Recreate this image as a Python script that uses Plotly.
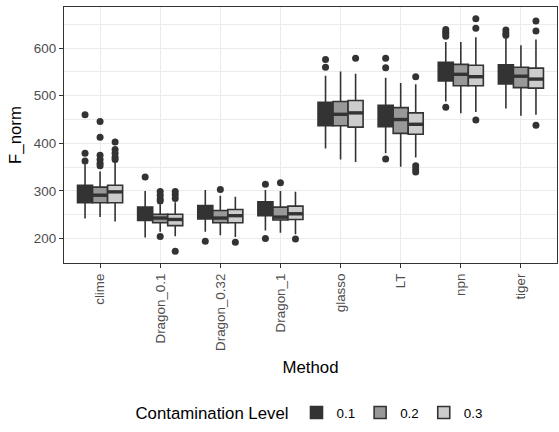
import plotly.graph_objects as go

methods = ["clime", "Dragon_0.1", "Dragon_0.32", "Dragon_1", "glasso", "LT", "npn", "tiger"]
levels = ["0.1", "0.2", "0.3"]

q1 = {
    "0.1": [275, 238, 241, 248, 437, 435, 531, 525],
    "0.2": [275, 233, 233, 239, 437, 421, 521, 517],
    "0.3": [275, 227, 233, 240, 434, 419, 521, 516],
}
median = {
    "0.1": [290, 250, 255, 262, 460, 455, 550, 545],
    "0.2": [291, 243, 243, 245, 461, 450, 545, 541],
    "0.3": [298, 240, 248, 252, 464, 440, 540, 535],
}
q3 = {
    "0.1": [312, 266, 269, 277, 486, 480, 570, 565],
    "0.2": [308, 251, 259, 266, 488, 475, 566, 560],
    "0.3": [312, 251, 261, 268, 490, 464, 564, 558],
}
lower = {
    "0.1": [242, 202, 214, 217, 389, 379, 488, 473],
    "0.2": [245, 214, 207, 212, 366, 351, 463, 458],
    "0.3": [236, 205, 203, 209, 361, 370, 466, 460],
}
upper = {
    "0.1": [356, 300, 302, 302, 542, 538, 613, 622],
    "0.2": [341, 272, 290, 300, 551, 527, 613, 606],
    "0.3": [362, 276, 288, 298, 546, 524, 623, 618],
}
outliers = {
    "0.1": [[460, 379, 363], [329], [194], [314, 200], [576, 560],
            [579, 559, 367], [639, 634, 630, 625, 476], [638, 632, 627]],
    "0.2": [[446, 413, 375, 366, 358, 353], [299, 291, 283, 279, 204], [303], [317],
            [], [], [], []],
    "0.3": [[403, 387, 379, 371, 366], [299, 292, 284, 173], [192], [199], [579],
            [540, 353, 346, 340], [662, 642, 449], [657, 636, 438]],
}

fills = {"0.1": "#333333", "0.2": "#989898", "0.3": "#CCCCCC"}
edge = "#333333"
dodge = 0.75
bw = dodge / len(levels)

fig = go.Figure()
for k, lv in enumerate(levels):
    off = -dodge / 2 + bw * (k + 0.5)
    xs = [i + 1 + off for i in range(len(methods))]
    fig.add_trace(go.Box(
        name=lv, x=xs, q1=q1[lv], median=median[lv], q3=q3[lv],
        lowerfence=lower[lv], upperfence=upper[lv],
        width=bw, whiskerwidth=0, fillcolor=fills[lv],
        line=dict(color=edge, width=1.6), boxpoints=False,
        hoverinfo="skip",
    ))
    # thick median lines
    mx, my = [], []
    for x, m in zip(xs, median[lv]):
        mx += [x - bw / 2, x + bw / 2, None]
        my += [m, m, None]
    fig.add_trace(go.Scatter(x=mx, y=my, mode="lines", line=dict(color=edge, width=3.4),
                             showlegend=False, hoverinfo="skip"))
    ox, oy = [], []
    for x, vals in zip(xs, outliers[lv]):
        for v in vals:
            ox.append(x)
            oy.append(v)
    fig.add_trace(go.Scatter(x=ox, y=oy, mode="markers",
                             marker=dict(color=edge, size=7, line=dict(width=0)),
                             showlegend=False, hoverinfo="skip"))

allvals = []
for lv in levels:
    allvals += lower[lv] + upper[lv]
    for o in outliers[lv]:
        allvals += o
lo, hi = min(allvals), max(allvals)
pad = (hi - lo) * 0.05

font = "Liberation Sans, Arial, sans-serif"
fig.update_layout(
    width=559, height=432,
    margin=dict(l=64, r=2, t=7, b=164, pad=0),
    plot_bgcolor="white", paper_bgcolor="white",
    font=dict(family=font, color="#4D4D4D", size=13.4),
    showlegend=True,
    legend=dict(
        orientation="h", x=0.5, xanchor="center", y=-0.587, yanchor="middle",
        title=dict(text="Contamination Level", font=dict(size=16.8, color="black"), side="left"),
        font=dict(size=13.4, color="black"),
        itemwidth=30, tracegroupgap=0,
    ),
    xaxis=dict(
        range=[0.4, len(methods) + 0.6],
        tickvals=list(range(1, len(methods) + 1)), ticktext=methods,
        tickangle=-90, ticks="outside", ticklen=4, tickwidth=1.4, tickcolor=edge,
        showgrid=True, gridcolor="#EBEBEB", gridwidth=1.4, zeroline=False,
        showline=True, linecolor=edge, linewidth=1.4, mirror=True,
        tickfont=dict(size=13.4, color="#4D4D4D"),
        title=dict(text="Method", font=dict(size=16.8, color="black"), standoff=11),
    ),
    yaxis=dict(
        range=[lo - pad, hi + pad],
        tickvals=[200, 300, 400, 500, 600],
        ticks="outside", ticklen=4, tickwidth=1.4, tickcolor=edge,
        showgrid=True, gridcolor="#EBEBEB", gridwidth=1.4, zeroline=False,
        minor=dict(tickvals=[150, 250, 350, 450, 550, 650], showgrid=True,
                   gridcolor="#EBEBEB", gridwidth=0.7, ticks=""),
        showline=True, linecolor=edge, linewidth=1.4, mirror=True,
        tickfont=dict(size=13.4, color="#4D4D4D"),
        title=dict(text="F_norm", font=dict(size=16.8, color="black"), standoff=7),
    ),
)

fig.write_html("out.html")
